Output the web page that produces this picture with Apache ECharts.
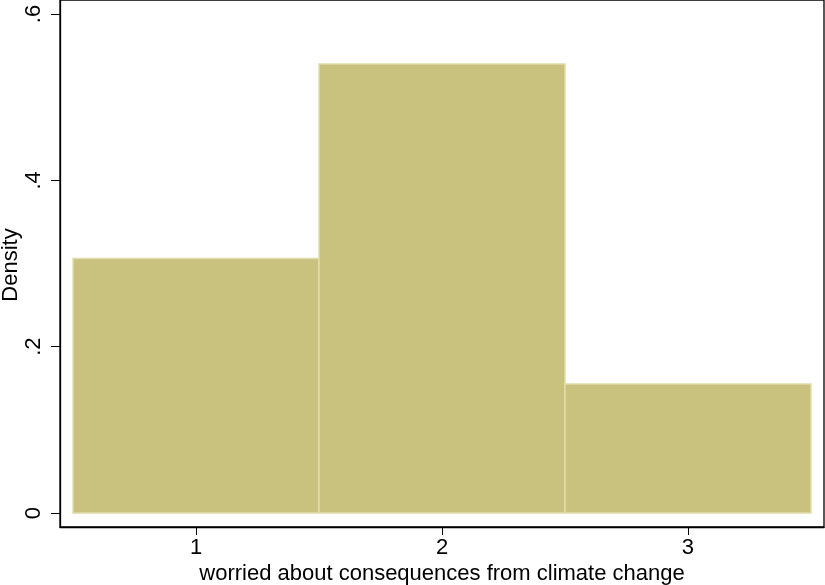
<!DOCTYPE html>
<html><head><meta charset="utf-8">
<script src="https://cdn.jsdelivr.net/npm/echarts@6/dist/echarts.min.js"></script>
<style>html,body{margin:0;padding:0;background:#fff}#c{width:825px;height:585px}</style>
</head><body><div id="c"></div>
<script>
const binStarts = [0.5, 1.5, 2.5];
const binWidth = 1;
const densities = [0.306, 0.540, 0.155];
const xTicks = [1, 2, 3];
const yTicks = [0, 0.2, 0.4, 0.6];
const yTickLabels = ['0', '.2', '.4', '.6'];
const xTitle = 'worried about consequences from climate change';
const yTitle = 'Density';

const data = binStarts.map((s, i) => [s, s + binWidth, densities[i]]);
const chart = echarts.init(document.getElementById('c'), null, {renderer: 'canvas'});
const font = 'Liberation Sans, Arial, sans-serif';
chart.setOption({
  animation: false,
  grid: {left: 60, right: 1, top: 0, bottom: 58, containLabel: false, outerBoundsMode: 'none',
    show: true, borderColor: '#000', borderWidth: 1.3, backgroundColor: '#fff'},
  graphic: [{
    type: 'text', x: 11, y: 265, rotation: Math.PI / 2,
    style: {text: yTitle, font: '22px ' + font, fill: '#000', align: 'center', verticalAlign: 'middle'}
  }],
  xAxis: {
    type: 'value', min: 0.447, max: 3.553,
    name: xTitle, nameLocation: 'middle', nameGap: 36, nameMoveOverlap: false,
    nameTextStyle: {fontFamily: font, fontSize: 22, color: '#000'},
    axisLine: {show: true, onZero: false, lineStyle: {color: '#000', width: 1.3}},
    axisTick: {show: true, customValues: xTicks, length: 8, lineStyle: {color: '#000'}},
    axisLabel: {customValues: xTicks, fontFamily: font, fontSize: 22, color: '#000', margin: 10},
    splitLine: {show: false}
  },
  yAxis: {
    type: 'value', min: -0.0168, max: 0.6168,
    axisLine: {show: true, onZero: false, lineStyle: {color: '#000', width: 1.3}},
    axisTick: {show: true, customValues: yTicks, length: 9, lineStyle: {color: '#000'}},
    axisLabel: {customValues: yTicks, rotate: 90, fontFamily: font, fontSize: 22, color: '#000', margin: 15,
      formatter: v => { const i = yTicks.findIndex(t => Math.abs(t - v) < 1e-6); return i >= 0 ? yTickLabels[i] : ''; }},
    splitLine: {show: false}
  },
  series: [{
    type: 'custom',
    data: data,
    renderItem: function (params, api) {
      const p0 = api.coord([api.value(0), 0]);
      const p1 = api.coord([api.value(1), api.value(2)]);
      return {
        type: 'rect',
        shape: {x: p0[0], y: p1[1], width: p1[0] - p0[0], height: p0[1] - p1[1]},
        style: {fill: '#C9C27F', stroke: '#E0DCAA', lineWidth: 1.5}
      };
    }
  }]
});
</script></body></html>
